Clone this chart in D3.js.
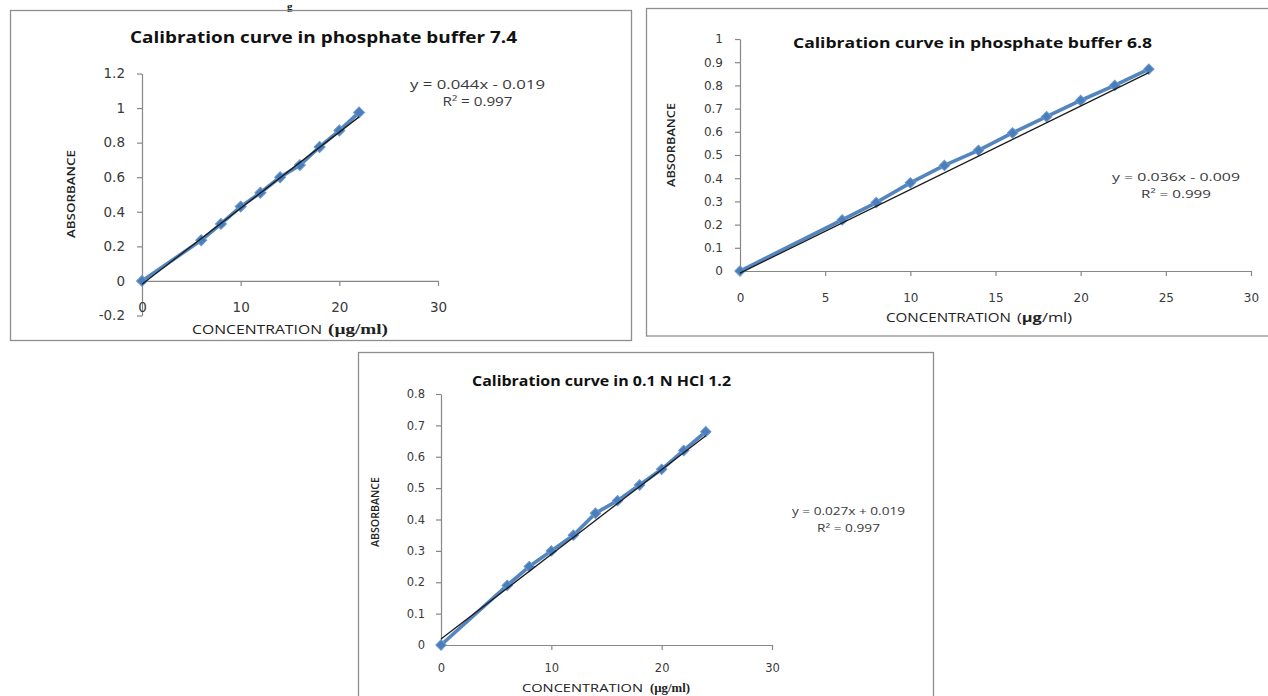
<!DOCTYPE html>
<html>
<head>
<meta charset="utf-8">
<script src="https://cdn.jsdelivr.net/npm/d3@7"></script>
<style>
  html, body { margin: 0; padding: 0; background: #fff; }
  svg { display: block; }
</style>
</head>
<body>
<svg id="chart" width="1268" height="696"></svg>
<script>
// ---------- DATA ----------
const titles = ["Calibration curve in phosphate buffer 7.4",
                "Calibration curve in phosphate buffer 6.8",
                "Calibration curve in 0.1 N HCl 1.2"];

const conc74 = [0, 6, 8, 10, 12, 14, 16, 18, 20, 22];
const abs74  = [0, 0.235, 0.33, 0.43, 0.51, 0.60, 0.67, 0.775, 0.87, 0.975];
const fit74  = [0.044, -0.019];
const eq74   = ["y = 0.044x - 0.019", "R² = 0.997"];
const xTicks74 = [0, 10, 20, 30];
const yTicks74 = [-0.2, 0, 0.2, 0.4, 0.6, 0.8, 1, 1.2];

const conc68 = [0, 6, 8, 10, 12, 14, 16, 18, 20, 22, 24];
const abs68  = [0, 0.22, 0.295, 0.38, 0.455, 0.52, 0.595, 0.665, 0.735, 0.80, 0.87];
const fit68  = [0.036, -0.009];
const eq68   = ["y = 0.036x - 0.009", "R² = 0.999"];
const xTicks68 = [0, 5, 10, 15, 20, 25, 30];
const yTicks68 = [0, 0.1, 0.2, 0.3, 0.4, 0.5, 0.6, 0.7, 0.8, 0.9, 1];

const conc12 = [0, 6, 8, 10, 12, 14, 16, 18, 20, 22, 24];
const abs12  = [0, 0.19, 0.25, 0.30, 0.35, 0.42, 0.46, 0.51, 0.56, 0.62, 0.68];
const fit12  = [0.027, 0.019];
const eq12   = ["y = 0.027x + 0.019", "R² = 0.997"];
const xTicks12 = [0, 10, 20, 30];
const yTicks12 = [0, 0.1, 0.2, 0.3, 0.4, 0.5, 0.6, 0.7, 0.8];

const yLabel = "ABSORBANCE";
const xLabelMain = "CONCENTRATION";
const xLabelUnit = "(µg/ml)";

// ---------- DRAW ----------
const svg = d3.select("#chart");
const AXIS = "#878787", TXT = "#3a3a3a", BLUE = "#4a7ebb", SANS = "'Open Sans', 'DejaVu Sans', sans-serif";
const fmt = d => String(+d.toFixed(1));

// partial header letter at the very top
svg.append("text").attr("x", 287).attr("y", 10).attr("font-family", "'Liberation Serif', serif")
  .attr("font-weight", 700).attr("font-size", 11).attr("fill", "#111").text("g");

function txt(g, s, x, y, o) {
  const t = g.append("text").attr("x", x).attr("y", y)
    .attr("font-family", o.family || SANS).attr("font-size", o.size)
    .attr("font-weight", o.weight || 400).attr("fill", o.fill || TXT)
    .attr("text-anchor", o.anchor || "start").attr("dominant-baseline", "central").text(s);
  if (o.len) t.attr("textLength", o.len).attr("lengthAdjust", "spacingAndGlyphs");
  if (o.rotate) t.attr("transform", `rotate(-90 ${x} ${y})`);
  return t;
}

function drawChart(c) {
  const g = svg.append("g");
  g.append("rect").attr("x", c.box[0]).attr("y", c.box[1]).attr("width", c.box[2]).attr("height", c.box[3])
    .attr("fill", "none").attr("stroke", "#8e8e8e").attr("stroke-width", 1.3);

  const x = d3.scaleLinear().domain([c.xTicks[0], c.xTicks[c.xTicks.length - 1]]).range(c.xr);
  const y = d3.scaleLinear().domain([c.yTicks[0], c.yTicks[c.yTicks.length - 1]]).range(c.yr);

  // y axis
  const ya = g.append("g").attr("transform", `translate(${x(0)},0)`)
    .call(d3.axisLeft(y).tickValues(c.yTicks).tickFormat(fmt).tickSize(5).tickSizeOuter(0).tickPadding(c.yPad));
  ya.selectAll("text").attr("font-family", c.tickFamily).attr("font-size", c.tickSize).attr("fill", TXT);
  // x axis at y = 0
  const xa = g.append("g").attr("transform", `translate(0,${y(0)})`)
    .call(d3.axisBottom(x).tickValues(c.xTicks).tickFormat(fmt).tickSize(5).tickSizeOuter(0).tickPadding(c.xPad));
  xa.selectAll("text").attr("font-family", c.tickFamily).attr("font-size", c.tickSize).attr("fill", TXT);
  [ya, xa].forEach(a => { a.selectAll("path,line").attr("stroke", AXIS).attr("stroke-width", 1.2); });

  // series line + markers
  const pts = c.conc.map((v, i) => [v, c.abs[i]]);
  g.append("path").datum(pts).attr("fill", "none").attr("stroke", BLUE).attr("stroke-width", 3.6)
    .attr("stroke-linejoin", "round").attr("stroke-opacity", 0.95)
    .attr("d", d3.line().x(d => x(d[0])).y(d => y(d[1])));
  const sym = d3.symbol().type(d3.symbolSquare).size(c.mk);
  g.selectAll(".mk").data(pts).join("path")
    .attr("transform", d => `translate(${x(d[0])},${y(d[1])}) rotate(45)`)
    .attr("d", sym).attr("fill", BLUE).attr("stroke", "#6a97cf").attr("stroke-width", 1);

  // linear trendline across data range
  const x0 = d3.min(c.conc), x1 = d3.max(c.conc);
  g.append("line").attr("x1", x(x0)).attr("y1", y(c.fit[0] * x0 + c.fit[1]))
    .attr("x2", x(x1)).attr("y2", y(c.fit[0] * x1 + c.fit[1]))
    .attr("stroke", "#1b1b1b").attr("stroke-width", 1.3);

  // title
  txt(g, c.title, c.titlePos[0], c.titlePos[1], { size: c.titleSize, weight: 700, fill: "#111", anchor: "middle", len: c.titlePos[2] });
  // equations
  txt(g, c.eq[0], c.eqPos[0], c.eqPos[1], { size: c.eqSize, anchor: "middle", len: c.eqPos[2] });
  txt(g, c.eq[1], c.eqPos[0], c.eqPos[1] + c.eqPos[4], { size: c.eqSize, anchor: "middle", len: c.eqPos[3] });
  // y label
  txt(g, yLabel, c.yl[0], c.yl[1], { size: c.ylSize, weight: 600, anchor: "middle", len: c.yl[2], rotate: true, fill: "#222" });
  // x label
  txt(g, xLabelMain, c.xl[0], c.xl[1], { size: c.xlSize, len: c.xl[2], fill: "#222" });
  if (c.unitSerif) {
    txt(g, xLabelUnit, c.xl[3], c.xl[1], { size: c.xlSize + 2, len: c.xl[4], family: "'Liberation Serif', serif", weight: 700, fill: "#222" });
  } else {
    const t = txt(g, "", c.xl[3], c.xl[1], { size: c.xlSize, len: c.xl[4], fill: "#222" });
    t.append("tspan").text("(");
    t.append("tspan").attr("font-weight", 700).text("µg");
    t.append("tspan").text("/ml)");
  }
}

drawChart({
  box: [10.5, 10.5, 621, 330], xr: [142, 438], yr: [315.5, 73.5],
  xTicks: xTicks74, yTicks: yTicks74, conc: conc74, abs: abs74, fit: fit74, eq: eq74, title: titles[0],
  tickFamily: "'DejaVu Sans', sans-serif", tickSize: 13.5, yPad: 12, xPad: 16, mk: 60,
  titlePos: [323.5, 37, 387], titleSize: 16,
  eqPos: [477.5, 84, 135, 70, 17], eqSize: 12,
  yl: [70, 194, 88], ylSize: 11.5,
  xl: [192, 329, 130, 328, 60], xlSize: 13, unitSerif: true
});

drawChart({
  box: [646.5, 8.5, 640, 327.5], xr: [740, 1251], yr: [271, 39],
  xTicks: xTicks68, yTicks: yTicks68, conc: conc68, abs: abs68, fit: fit68, eq: eq68, title: titles[1],
  tickFamily: "'DejaVu Sans', sans-serif", tickSize: 12, yPad: 12, xPad: 17, mk: 54,
  titlePos: [972.5, 42, 359], titleSize: 15,
  eqPos: [1176, 176, 128, 70, 17], eqSize: 11.5,
  yl: [670, 145, 84], ylSize: 11,
  xl: [886, 317, 125, 1017, 55], xlSize: 12.5, unitSerif: false
});

drawChart({
  box: [358.5, 352.5, 575, 360], xr: [441, 772], yr: [645, 394],
  xTicks: xTicks12, yTicks: yTicks12, conc: conc12, abs: abs12, fit: fit12, eq: eq12, title: titles[2],
  tickFamily: "'DejaVu Sans', sans-serif", tickSize: 11.5, yPad: 11, xPad: 14, mk: 54,
  titlePos: [601.5, 380, 259], titleSize: 14,
  eqPos: [848.5, 511, 113, 63, 17], eqSize: 10.5,
  yl: [375, 512, 70], ylSize: 10,
  xl: [522, 687, 121, 650, 40], xlSize: 11.5, unitSerif: true
});
</script>
</body>
</html>
